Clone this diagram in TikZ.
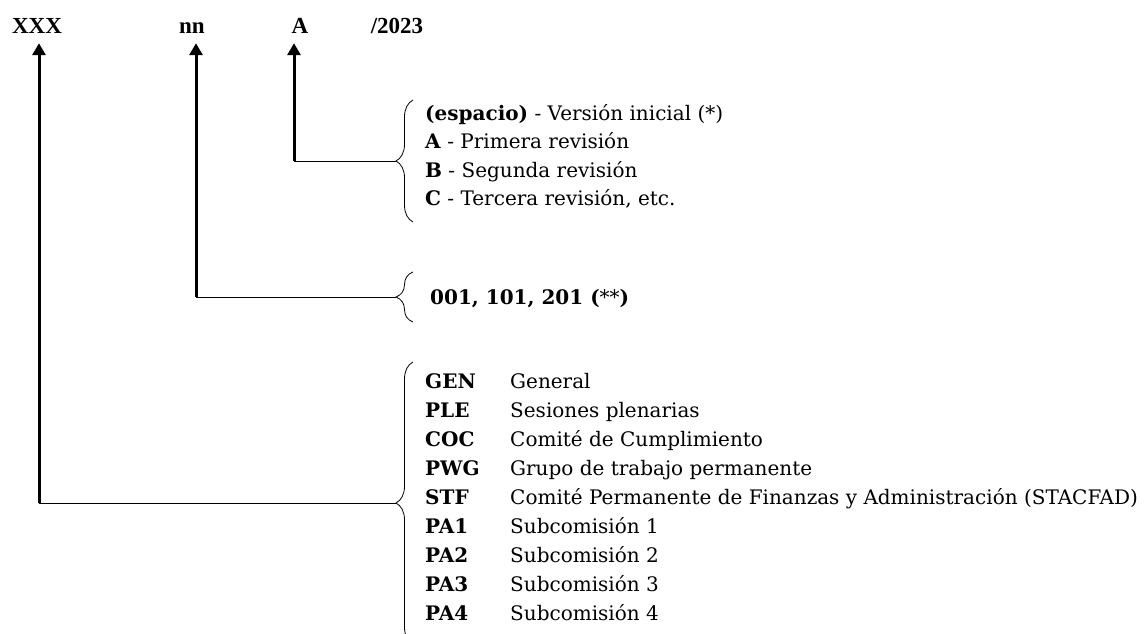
\documentclass[tikz,border=0pt]{standalone}
\usepackage{fontspec}
\setmainfont{DejaVu Serif}
\newfontfamily\hdrfont{Liberation Serif}
\usetikzlibrary{arrows.meta, decorations.pathreplacing}

\begin{document}
\begin{tikzpicture}[x=1pt, y=-1pt,
    hdr/.style={font=\hdrfont\bfseries\fontsize{23}{27}\selectfont, anchor=base, inner sep=10pt},
    item/.style={font=\fontsize{20}{24}\selectfont, anchor=base west, inner sep=0pt},
    uparrow/.style={line width=3pt, -{Triangle[width=13pt, length=12pt]}},
    leader/.style={line width=0.8pt},
    curly/.style={line width=0.8pt, decorate, decoration={brace, amplitude=17pt}}]

    \useasboundingbox (0,0) rectangle (1145,633);

    % code parts
    \node[hdr] (xxx) at (37,33) {XXX};
    \node[hdr] (nn) at (192,33) {nn};
    \node[hdr] (rev) at (300,33) {A};
    \node[hdr] (year) at (397,33) {/2023};

    % revision letter
    \node[item] (rev-0) at (425,120) {\textbf{(espacio)} - Versión inicial (*)};
    \node[item] (rev-1) at (425,148.5) {\textbf{A} - Primera revisión};
    \node[item] (rev-2) at (425,177) {\textbf{B} - Segunda revisión};
    \node[item] (rev-3) at (425,205.5) {\textbf{C} - Tercera revisión, etc.};

    \coordinate (rev-corner) at (294,161);
    \coordinate (rev-tip) at (396,161);
    \draw[uparrow] (rev-corner) -- (rev-corner |- rev.south);
    \draw[leader] (rev-corner) -- (rev-tip);
    \draw[curly] (413,222) -- (413,100);

    % number
    \node[item] (num) at (430,304) {\textbf{001, 101, 201 (}**\textbf{)}};

    \coordinate (nn-corner) at (196,297);
    \coordinate (nn-tip) at (396,297);
    \draw[uparrow] (nn-corner) -- (nn-corner |- nn.south);
    \draw[leader] (nn-corner) -- (nn-tip);
    \draw[curly] (413,322) -- (413,272);

    % body
    \foreach \code/\desc [count=\i from 0] in {GEN/General, PLE/Sesiones plenarias,
        COC/Comité de Cumplimiento, PWG/Grupo de trabajo permanente,
        STF/Comité Permanente de Finanzas y Administración (STACFAD),
        PA1/Subcomisión 1, PA2/Subcomisión 2, PA3/Subcomisión 3, PA4/Subcomisión 4}
    {
        \node[item, font=\fontsize{20}{24}\selectfont\bfseries] (code-\i) at (425,388+29*\i) {\code};
        \node[item] (desc-\i) at (510,388+29*\i) {\desc};
    }

    \coordinate (xxx-corner) at (39,503);
    \coordinate (xxx-tip) at (396,503);
    \draw[uparrow] (xxx-corner) -- (xxx-corner |- xxx.south);
    \draw[leader] (xxx-corner) -- (xxx-tip);
    \draw[curly] (413,644) -- (413,362);

\end{tikzpicture}
\end{document}
